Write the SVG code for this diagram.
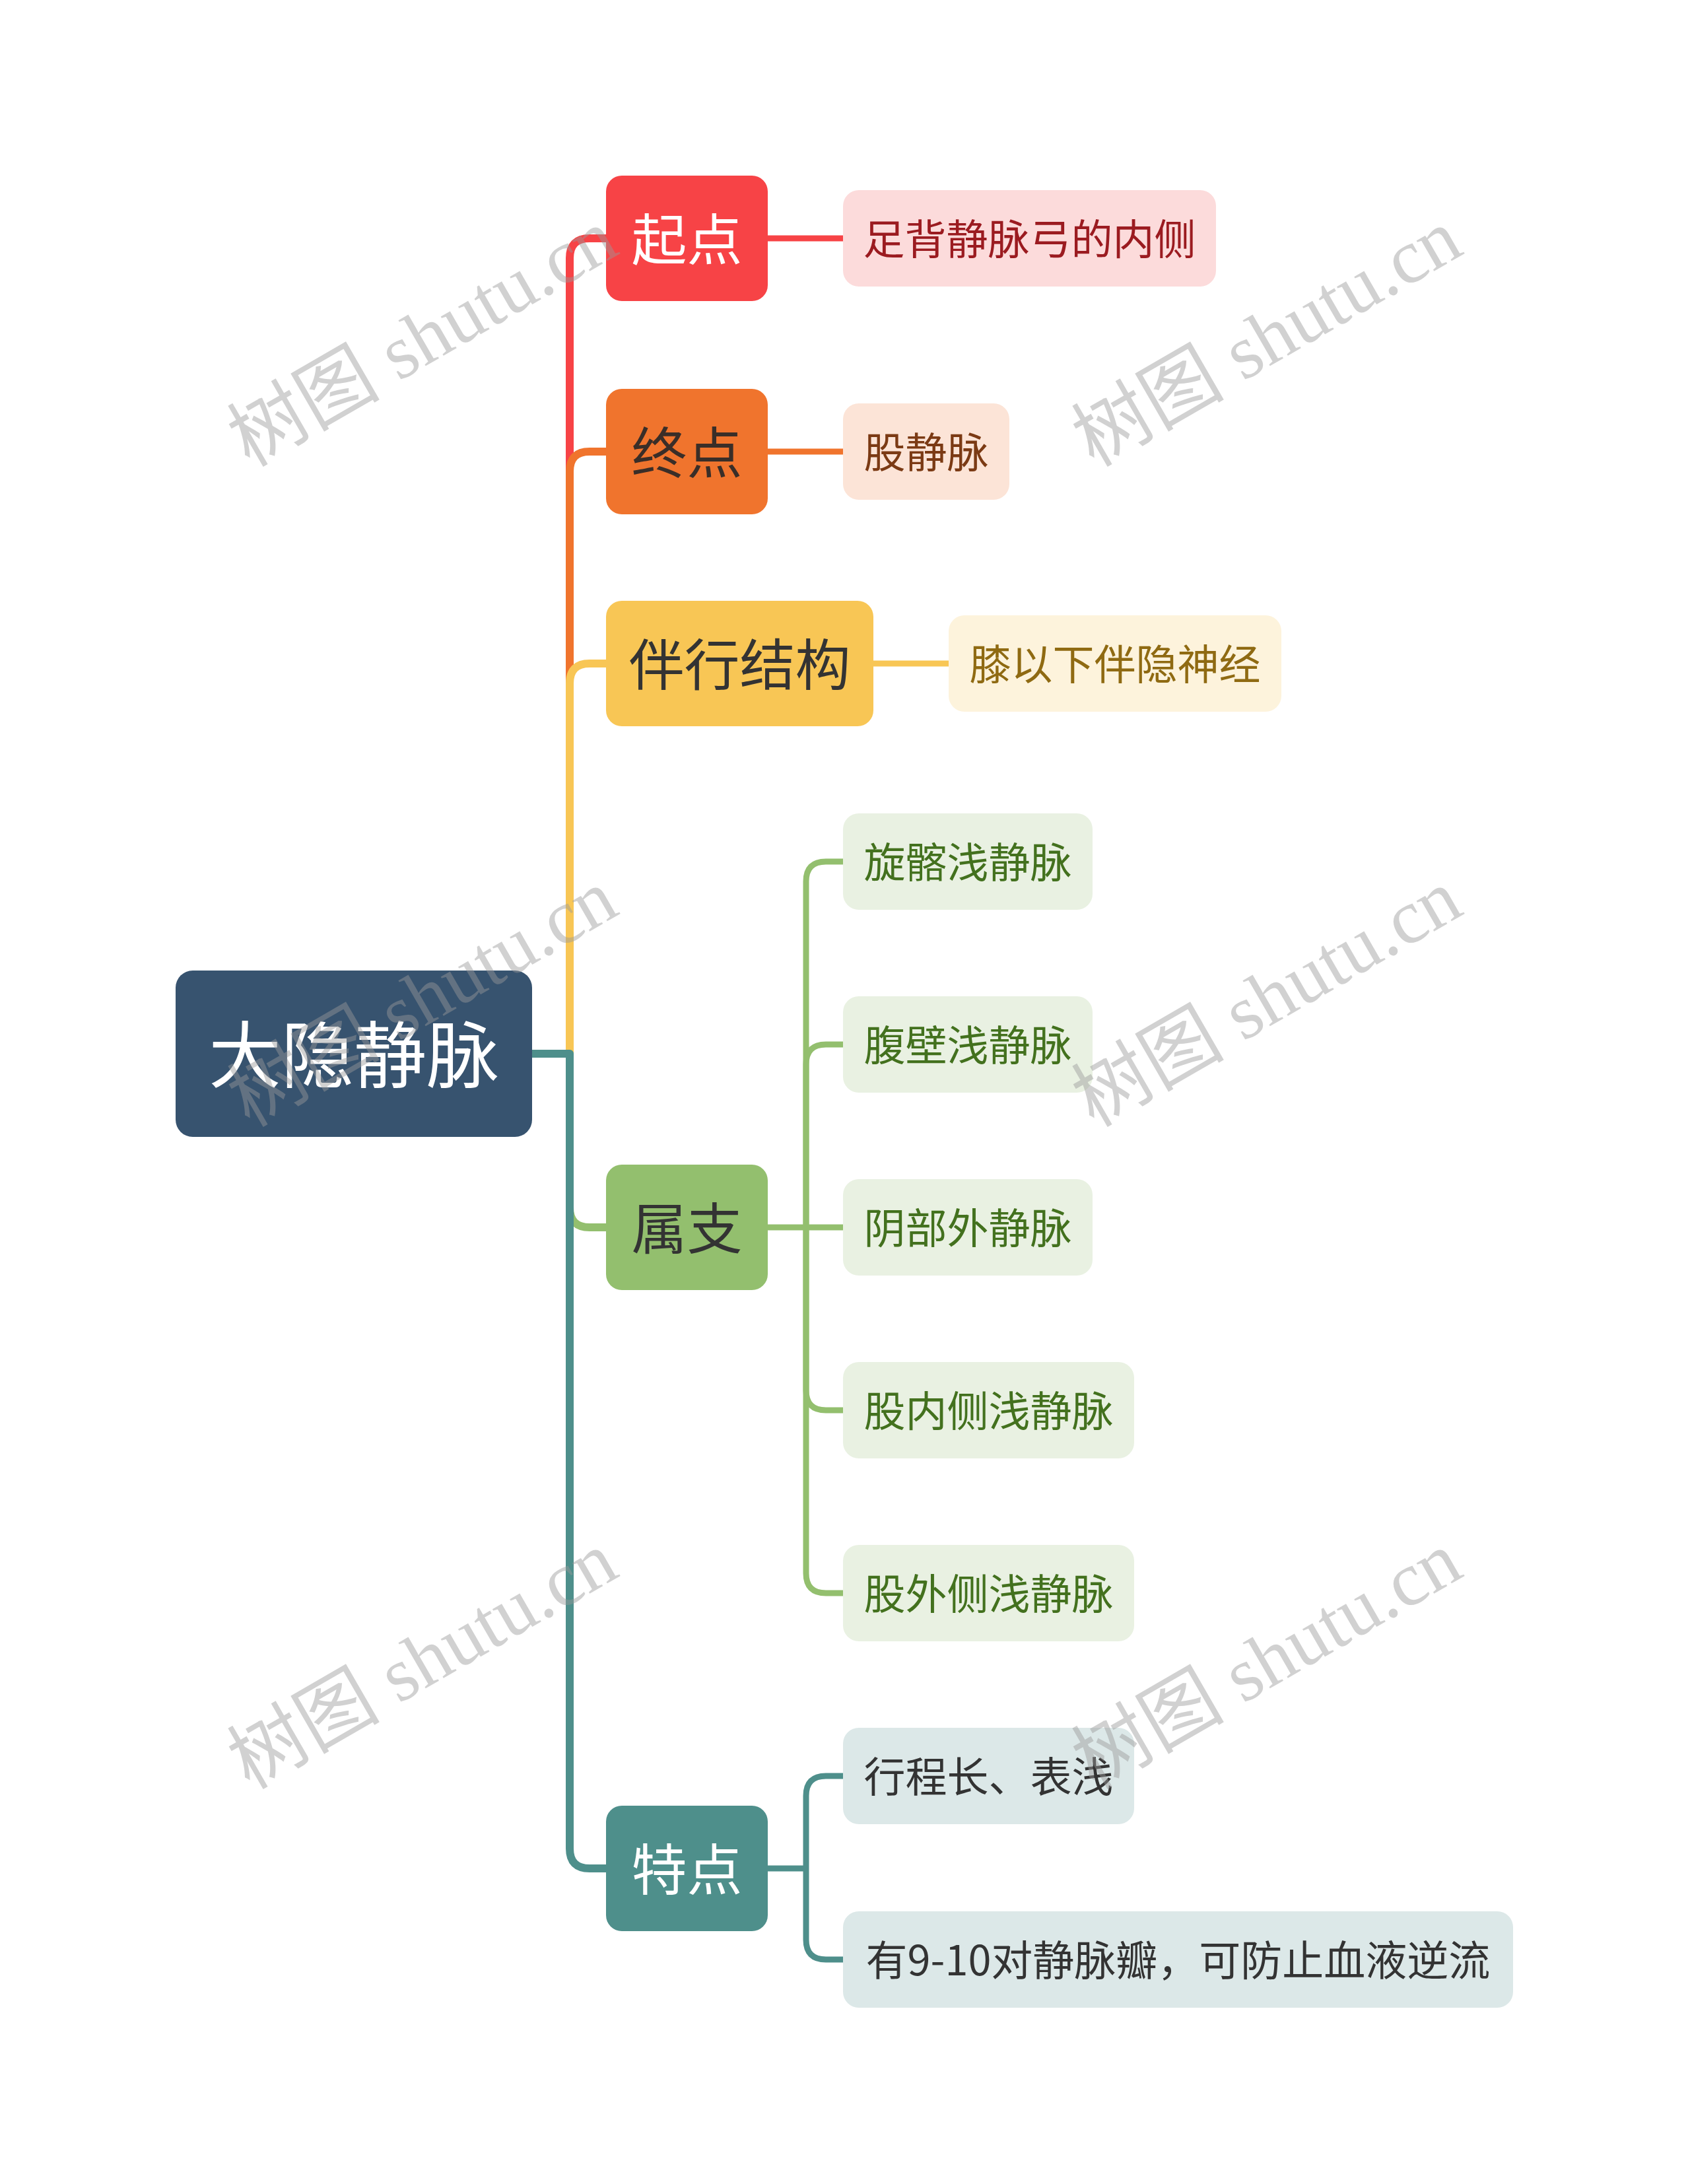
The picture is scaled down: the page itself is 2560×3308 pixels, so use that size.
<svg xmlns="http://www.w3.org/2000/svg" width="2560" height="3308" viewBox="0 0 2560 3308">
<style>
text{font-family:"Noto Sans CJK SC","Noto Sans",sans-serif;text-anchor:middle;dominant-baseline:central}
.l1{fill:none;stroke-width:12;stroke-linejoin:round}
.l2{fill:none;stroke-width:9;stroke-linejoin:round}
.t1{font-size:84px}
.t2{font-size:63px}
.wm{font-family:"Liberation Serif","Noto Sans CJK SC",serif;font-size:116px;fill:#9a9a9a;fill-opacity:0.45}
</style>
<rect width="2560" height="3308" fill="#ffffff"/>
<g id="connectors">
<path class="l1" stroke="#F74346" d="M806,1596 H863 V391 Q863,361 893,361 H918"/>
<path class="l1" stroke="#F0742D" d="M806,1596 H863 V714 Q863,684 893,684 H918"/>
<path class="l1" stroke="#F8C655" d="M806,1596 H863 V1035 Q863,1005 893,1005 H918"/>
<path class="l1" stroke="#93BF6E" d="M806,1596 H863 V1829 Q863,1859 893,1859 H918"/>
<path class="l1" stroke="#4E8F8B" d="M806,1596 H863 V2800 Q863,2830 893,2830 H918"/>
<path class="l2" stroke="#F74346" d="M1163,361 H1277"/>
<path class="l2" stroke="#F0742D" d="M1163,684 H1277"/>
<path class="l2" stroke="#F8C655" d="M1323,1005 H1437"/>
<path class="l2" stroke="#93BF6E" d="M1163,1859 H1277"/>
<path class="l2" stroke="#93BF6E" d="M1221,1859 V1335 Q1221,1305 1251,1305 H1277"/>
<path class="l2" stroke="#93BF6E" d="M1221,1859 V1612 Q1221,1582 1251,1582 H1277"/>
<path class="l2" stroke="#93BF6E" d="M1221,1859 V2106 Q1221,2136 1251,2136 H1277"/>
<path class="l2" stroke="#93BF6E" d="M1221,1859 V2383 Q1221,2413 1251,2413 H1277"/>
<path class="l2" stroke="#4E8F8B" d="M1163,2830 H1221"/>
<path class="l2" stroke="#4E8F8B" d="M1221,2830 V2720 Q1221,2690 1251,2690 H1277"/>
<path class="l2" stroke="#4E8F8B" d="M1221,2830 V2938 Q1221,2968 1251,2968 H1277"/>
</g>
<g id="root">
<rect x="266" y="1470" width="540" height="252" rx="26" fill="#37536F"/>
<text x="536" y="1591" font-size="110" fill="#ffffff">大隐静脉</text>
</g>
<g id="n-qidian">
<rect x="918" y="266" width="245" height="190" rx="24" fill="#F74346"/>
<text class="t1" x="1040.5" y="357" fill="#ffffff">起点</text>
</g>
<g id="n-zhongdian">
<rect x="918" y="589" width="245" height="190" rx="24" fill="#F0742D"/>
<text class="t1" x="1040.5" y="680" fill="#3a2e28">终点</text>
</g>
<g id="n-banxing">
<rect x="918" y="910" width="405" height="190" rx="24" fill="#F8C655"/>
<text class="t1" x="1120.5" y="1001" fill="#333333">伴行结构</text>
</g>
<g id="n-shuzhi">
<rect x="918" y="1764" width="245" height="190" rx="24" fill="#93BF6E"/>
<text class="t1" x="1040.5" y="1855" fill="#333333">属支</text>
</g>
<g id="n-tedian">
<rect x="918" y="2735" width="245" height="190" rx="24" fill="#4E8F8B"/>
<text class="t1" x="1040.5" y="2826" fill="#ffffff">特点</text>
</g>
<g id="c-zubei">
<rect x="1277" y="288" width="565" height="146" rx="24" fill="#FCDBDB"/>
<text class="t2" x="1559.5" y="357" fill="#9B1B20">足背静脉弓的内侧</text>
</g>
<g id="c-gujingmai">
<rect x="1277" y="611" width="252" height="146" rx="24" fill="#FCE4D7"/>
<text class="t2" x="1403" y="680" fill="#7B3A14">股静脉</text>
</g>
<g id="c-xiyixia">
<rect x="1437" y="932" width="504" height="146" rx="24" fill="#FDF3DC"/>
<text class="t2" x="1689" y="1001" fill="#8F6A12">膝以下伴隐神经</text>
</g>
<g id="c-xuanqia">
<rect x="1277" y="1232" width="378" height="146" rx="24" fill="#E9F1E2"/>
<text class="t2" x="1466" y="1301" fill="#43711E">旋髂浅静脉</text>
</g>
<g id="c-fubi">
<rect x="1277" y="1509" width="378" height="146" rx="24" fill="#E9F1E2"/>
<text class="t2" x="1466" y="1578" fill="#43711E">腹壁浅静脉</text>
</g>
<g id="c-yinbu">
<rect x="1277" y="1786" width="378" height="146" rx="24" fill="#E9F1E2"/>
<text class="t2" x="1466" y="1855" fill="#43711E">阴部外静脉</text>
</g>
<g id="c-guneice">
<rect x="1277" y="2063" width="441" height="146" rx="24" fill="#E9F1E2"/>
<text class="t2" x="1497.5" y="2132" fill="#43711E">股内侧浅静脉</text>
</g>
<g id="c-guwaice">
<rect x="1277" y="2340" width="441" height="146" rx="24" fill="#E9F1E2"/>
<text class="t2" x="1497.5" y="2409" fill="#43711E">股外侧浅静脉</text>
</g>
<g id="c-xingcheng">
<rect x="1277" y="2617" width="441" height="146" rx="24" fill="#DCE8E8"/>
<text class="t2" x="1497.5" y="2686" fill="#333333">行程长、表浅</text>
</g>
<g id="c-jingmaiban">
<rect x="1277" y="2895" width="1015" height="146" rx="24" fill="#DCE8E8"/>
<text class="t2" x="1784.5" y="2964" fill="#333333">有9-10对静脉瓣，可防止血液逆流</text>
</g>
<g id="watermarks">
<text class="wm" x="640" y="512" transform="rotate(-30 640 512)">树图 shutu.cn</text>
<text class="wm" x="1919" y="512" transform="rotate(-30 1919 512)">树图 shutu.cn</text>
<text class="wm" x="640" y="1512" transform="rotate(-30 640 1512)">树图 shutu.cn</text>
<text class="wm" x="1919" y="1512" transform="rotate(-30 1919 1512)">树图 shutu.cn</text>
<text class="wm" x="640" y="2515" transform="rotate(-30 640 2515)">树图 shutu.cn</text>
<text class="wm" x="1919" y="2515" transform="rotate(-30 1919 2515)">树图 shutu.cn</text>
</g>
</svg>
